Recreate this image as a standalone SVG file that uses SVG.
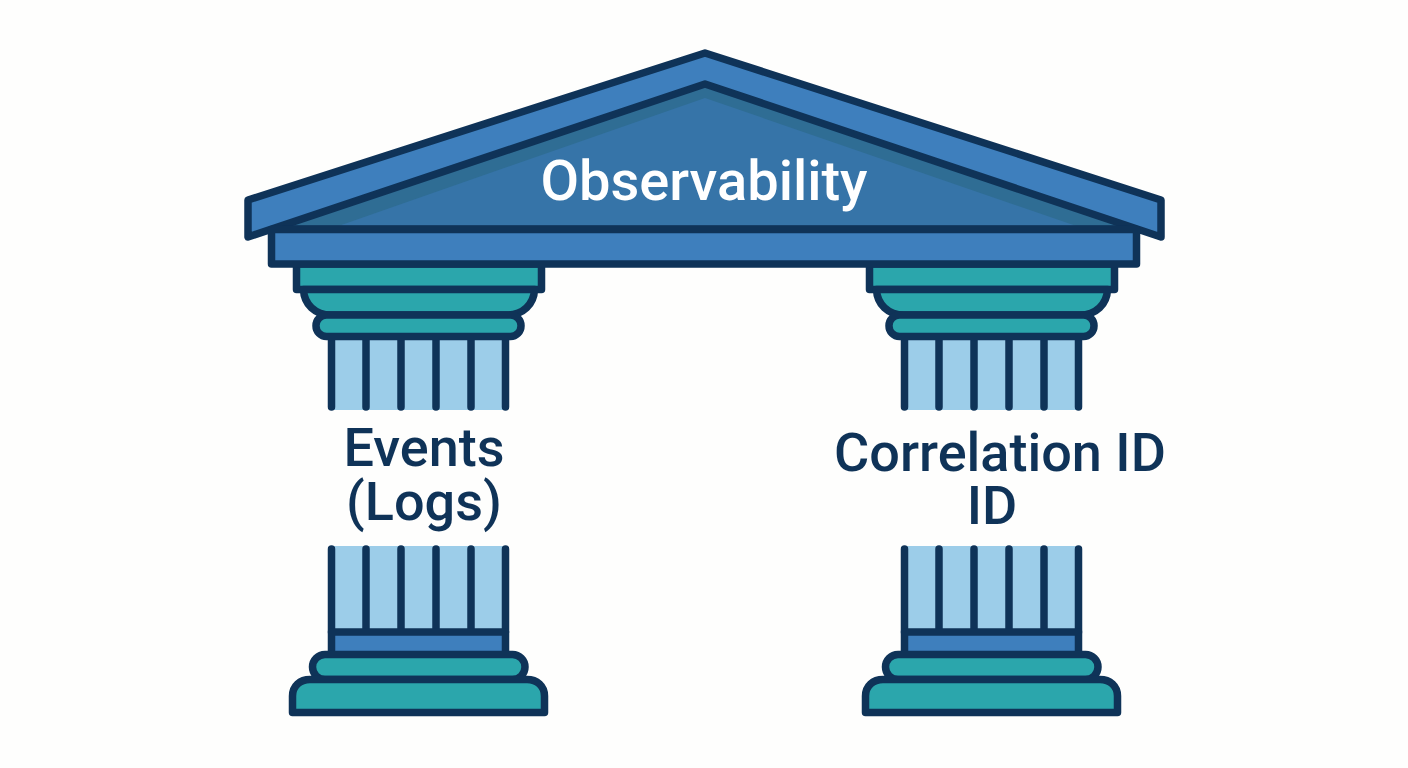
<svg xmlns="http://www.w3.org/2000/svg" width="1408" height="768" viewBox="0 0 1408 768">
<style>
.o{stroke:#0f3358;stroke-width:7.500;stroke-linejoin:round;stroke-linecap:round}
.b{fill:#3e7fbd}.t{fill:#2ba6ac}.s{fill:#9ccde9;stroke:none}
.f{fill:none}
text{font-family:Roboto,"Liberation Sans",sans-serif;font-weight:500;text-anchor:middle}
.lbl{fill:#0f3358;font-size:54px}
</style>
<defs>
<g id="column">
<rect class="s" x="331" y="336" width="175" height="74"/>
<rect class="s" x="331" y="546" width="175" height="86"/>
<path class="o f" d="M331.500 336V407M366 336V407M401 336V407M436 336V407M471 336V407M505.500 336V407"/>
<path class="o f" d="M331.500 549V632M366 549V632M401 549V632M436 549V632M471 549V632M505.500 549V632"/>
<rect class="o b" x="331.500" y="632" width="174" height="23"/>
<rect class="o t" x="296.500" y="264" width="245" height="25.500"/>
<path class="o t" d="M303.500 289.500C304 304 315 315 331 315H507C523 315 534 304 534.500 289.500Z"/>
<rect class="o t" x="316" y="315" width="205" height="21.500" rx="10.500"/>
<rect class="o t" x="312.500" y="654.500" width="212.500" height="25" rx="12.500"/>
<path class="o t" d="M292.500 712.500V696C292.500 686 300 679.500 310 679.500H527C537 679.500 544.500 686 544.500 696V712.500Z"/>
</g>
</defs>
<rect width="1408" height="768" fill="#fefefd"/>
<g id="column-left"><use href="#column"/></g>
<g id="column-right"><use href="#column" x="573"/></g>
<g id="pediment">
<path fill="#3674a8" d="M705 84L1130 229H280Z"/>
<path fill="#2f6d94" d="M705 84L1125 227L1085 229L705 98L330 229L285 227Z"/>
<path class="o b" d="M705 53L1161 200V237L705 84L248 237V200Z"/>
<path class="o f" d="M285 229H1125"/>
<rect class="o b" x="271.500" y="229.500" width="865" height="34.500"/>
<text x="704" y="200" font-size="56" fill="#fff">Observability</text>
</g>
<g id="label-events">
<text class="lbl" x="424" y="466">Events</text>
<text class="lbl" x="424" y="520">(Logs)</text>
</g>
<g id="label-correlation">
<text class="lbl" x="1000" y="471">Correlation ID</text>
<text class="lbl" x="992" y="524">ID</text>
</g>
</svg>
